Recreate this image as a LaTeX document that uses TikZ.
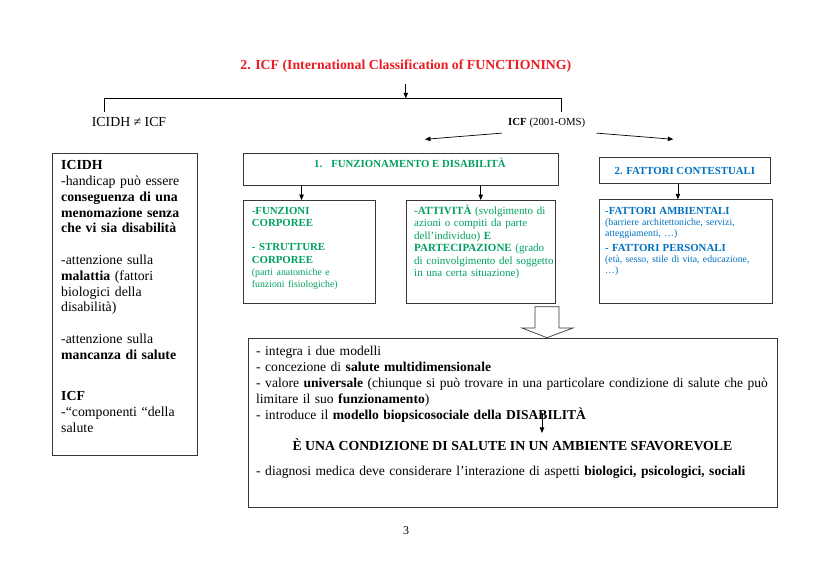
\documentclass[tikz,border=0pt]{standalone}
\usepackage{fontspec}
\setmainfont{Liberation Serif}
\usetikzlibrary{positioning,arrows.meta}
\definecolor{TitleRed}{RGB}{235,28,36}
\definecolor{FunzGreen}{RGB}{0,160,95}
\definecolor{ContBlue}{RGB}{0,112,192}
\definecolor{FrameGray}{RGB}{55,55,55}
\newcommand{\bigtxt}{\fontsize{13.8}{15.8}\selectfont}
\newcommand{\midtxt}{\fontsize{13.55}{16}\selectfont}
\newcommand{\boxtxt}{\fontsize{10.8}{12.2}\selectfont}
\newcommand{\partxt}{\fontsize{9.8}{11}\selectfont}
\tikzset{
  frame/.style={draw=FrameGray, line width=0.8pt, inner sep=0pt, anchor=north west},
  txt/.style={anchor=base west, inner sep=0pt, align=left, text width=#1},
  txt/.default=200pt,
  arr/.style={-{Triangle[length=5.5pt,width=4.5pt]}, line width=0.7pt},
}
\begin{document}
\begin{tikzpicture}[x=1pt,y=-1pt]
\useasboundingbox (0,0) rectangle (828,586);

% title and bracket
\node[anchor=base, inner sep=0pt, font=\bigtxt\bfseries, text=TitleRed] (title) at (405.8,69.6) {2. ICF (International Classification of FUNCTIONING)};
\node[anchor=base west, inner sep=0pt, font=\bigtxt] (neq) at (91.7,126.3) {ICIDH ≠ ICF};
\node[anchor=base west, inner sep=0pt, font=\boxtxt] (icf) at (508,125.6) {\textbf{ICF} (2001-OMS)};
\coordinate (brc) at (405.8,98.3);
\coordinate (brL) at (104,112);
\coordinate (brR) at (561.7,112);
\draw[line width=0.7pt] (brL) |- (brc) -| (brR);
\draw[arr] ([yshift=-11.5pt]title.south) -- (brc);

% ICIDH
\node[frame, minimum width=145pt, minimum height=302.3pt] (icidh) at (52,152.7) {};
\node[txt=150pt, font=\bigtxt] (icidhText) at (61,169.6) {\textbf{ICIDH}\\
-handicap può essere\\
\textbf{conseguenza di una}\\
\textbf{menomazione senza}\\
\textbf{che vi sia disabilità}\\[15.8pt]
-attenzione sulla\\
\textbf{malattia} (fattori\\
biologici della\\
disabilità)\\[15.8pt]
-attenzione sulla\\
\textbf{mancanza di salute}\\[25.9pt]
\textbf{ICF}\\
-“componenti “della\\
salute};

% ICF (2001-OMS) branches
\coordinate (funzTip) at (425,139.3);
\coordinate (contTip) at (673.3,139.3);
\draw[arr] ([xshift=-6pt,yshift=-5pt]icf.south west) -- (funzTip);
\draw[arr] ([xshift=11pt,yshift=-5pt]icf.south east) -- (contTip);

% funzionamento e disabilita
\node[frame, minimum width=314.7pt, minimum height=32.3pt] (funz) at (243.3,152.7) {};
\node[anchor=base west, inner sep=0pt, font=\boxtxt\bfseries, text=FunzGreen] (funzText) at (314,167.6) {1.\hspace{9pt}FUNZIONAMENTO E DISABILITÀ};
\node[frame, minimum width=131.7pt, minimum height=103pt] (corp) at (243.3,200) {};
\node[frame, minimum width=149.3pt, minimum height=103pt] (attiv) at (405.7,200) {};
\draw[arr] ([xshift=-8pt]corp.north |- funz.south) -- ([xshift=-8pt]corp.north);
\draw[arr] (funz.south -| attiv.north) -- (attiv.north);
\node[txt=125pt, font=\boxtxt, text=FunzGreen] (corpText) at (251.7,214.5) {\textbf{-FUNZIONI}\\
\textbf{CORPOREE}\\[12pt]
\textbf{- STRUTTURE}\\
\textbf{CORPOREE}\\[1.5pt]
{\partxt(parti anatomiche e\\
funzioni fisiologiche)}};
\node[txt=145pt, font=\fontsize{11}{12.4}\selectfont, text=FunzGreen] (attivText) at (414,214.5) {\textbf{-ATTIVITÀ} (svolgimento di\\
azioni o compiti da parte\\
dell’individuo) \textbf{E}\\
\textbf{PARTECIPAZIONE} (grado\\
di coinvolgimento del soggetto\\
in una certa situazione)};

% fattori contestuali
\node[frame, minimum width=171pt, minimum height=26pt, font=\boxtxt\bfseries, text=ContBlue] (cont) at (599,157.3) {2. FATTORI CONTESTUALI};
\node[frame, minimum width=173pt, minimum height=103.7pt] (fatt) at (599,199.3) {};
\draw[arr] ([xshift=-8pt]fatt.north |- cont.south) -- ([xshift=-8pt]fatt.north);
\node[txt=170pt, font=\partxt, text=ContBlue] (fattText) at (605,214.5) {{\boxtxt\bfseries -FATTORI AMBIENTALI}\\
(barriere architettoniche, servizi,\\
atteggiamenti, …)\\[4pt]
{\boxtxt\bfseries - FATTORI PERSONALI}\\
(età, sesso, stile di vita, educazione,\\
…)};

% sintesi
\node[frame, minimum width=529pt, minimum height=169.6pt] (sintesi) at (248,337.7) {};
\draw[line width=0.7pt, draw=FrameGray, fill=white] (535,306.7) -- (559,306.7) -- (559,328) -- (573,328) -- (547,337.7) -- (522,328) -- (535,328) -- cycle;
\node[txt=540pt, font=\midtxt] (sintesiText) at (256,355) {- integra i due modelli\\
- concezione di \textbf{salute multidimensionale}\\
- valore \textbf{universale} (chiunque si può trovare in una particolare condizione di salute che può\\
limitare il suo \textbf{funzionamento})\\
- introduce il \textbf{modello biopsicosociale della DISABILITÀ}};
\node[anchor=base, inner sep=0pt, font=\bigtxt\bfseries] (cond) at (512.5,450) {È UNA CONDIZIONE DI SALUTE IN UN AMBIENTE SFAVOREVOLE};
\coordinate (disab) at (542,413);
\draw[arr] (disab) -- ([yshift=5pt]disab |- cond.north);
\node[txt=540pt, font=\midtxt] (diagn) at (256,475) {- diagnosi medica deve considerare l’interazione di aspetti \textbf{biologici, psicologici, sociali}};

% page number
\node[inner sep=0pt, font=\fontsize{12}{14}\selectfont] (pagenum) at (406,531) {3};
\end{tikzpicture}
\end{document}
